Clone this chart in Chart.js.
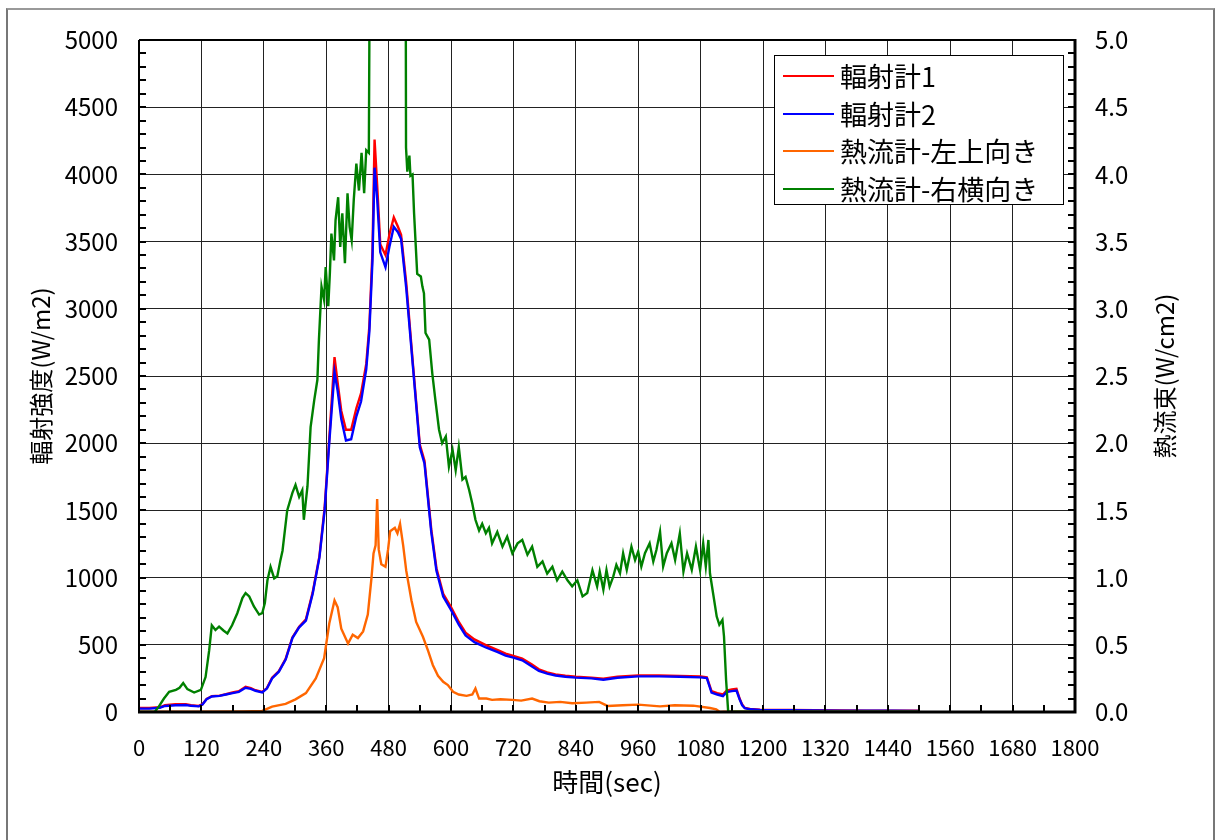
<!DOCTYPE html>
<html lang="ja">
<head>
<meta charset="utf-8">
<title>輻射強度と熱流束</title>
<script src="https://cdn.jsdelivr.net/npm/chart.js@4.4.1/dist/chart.umd.min.js"></script>
<style>
  body { margin: 0; background: #fff; }
  #wrap { position: relative; width: 1215px; height: 840px; overflow: hidden; }
  #frame { position: absolute; left: 6px; top: 8px; width: 1205px; height: 840px;
           border-left: 2px solid #777; border-top: 2px solid #999; border-right: 2px solid #777; }
  #legend { position: absolute; left: 774px; top: 55px; width: 290px; height: 150px;
            box-sizing: border-box; border: 1px solid #000; background: #fff;
            font-family: 'Noto Sans CJK JP', sans-serif; font-size: 27px; color: #000; }
  #legend .row { position: absolute; left: 0; height: 36px; line-height: 36px; white-space: nowrap; }
  #legend .swatch { position: absolute; left: 8px; top: 17px; width: 51px; height: 2px; }
  #legend .label { position: absolute; left: 65px; top: 0; }
</style>
</head>
<body>
<div id="wrap">
  <canvas id="chart" width="1215" height="840"></canvas>
  <div id="frame"></div>
  <div id="legend"></div>
</div>
<script>
// time axis (sec) shared by the two radiometers
const radT = [0, 20, 40, 50, 70, 90, 100, 115, 122, 130,
  140, 155, 167, 180, 192, 205, 215, 224, 237, 246,
  256, 269, 282, 295, 308, 321, 334, 347, 357, 366,
  376, 382, 389, 398, 408, 418, 427, 437, 443, 449,
  453, 458, 464, 474, 482, 490, 498, 504, 514, 527,
  540, 549, 562, 572, 585, 600, 615, 628, 645, 667,
  690, 705, 720, 737, 755, 769, 785, 801, 820, 840,
  870, 893, 920, 960, 1000, 1040, 1080, 1092, 1101, 1112,
  1123, 1130, 1140, 1149, 1155, 1160, 1165, 1175, 1194, 1250,
  1300, 1350, 1400, 1450, 1500];

// 輻射計1 (W/m2)
const rad1 = [30, 30, 35, 50, 58, 58, 50, 45, 58, 98,
  118, 122, 132, 145, 155, 188, 178, 162, 150, 178,
  255, 305, 395, 555, 635, 690, 890, 1160, 1520, 2040,
  2640, 2450, 2240, 2100, 2100, 2260, 2370, 2590, 2870, 3430,
  4260, 3920, 3480, 3400, 3560, 3680, 3610, 3550, 3190, 2580,
  1990, 1870, 1360, 1070, 880, 780, 670, 590, 540, 498,
  460, 435, 418, 398, 355, 318, 295, 280, 270, 262,
  256, 248, 262, 272, 272, 268, 264, 258, 155, 140,
  130, 160, 168, 172, 100, 55, 30, 22, 17, 15,
  13, 11, 10, 9, 9];

// 輻射計2 (W/m2)
const rad2 = [25, 25, 32, 45, 50, 52, 46, 42, 55, 95,
  115, 120, 130, 140, 150, 180, 172, 158, 146, 175,
  250, 300, 390, 550, 630, 680, 880, 1150, 1500, 2010,
  2530, 2390, 2180, 2020, 2030, 2200, 2310, 2550, 2830, 3360,
  4050, 3820, 3420, 3310, 3470, 3610, 3570, 3520, 3150, 2560,
  1970, 1850, 1340, 1050, 860, 760, 650, 570, 520, 480,
  445, 420, 405, 385, 340, 305, 285, 272, 262, 256,
  250, 240, 255, 265, 265, 262, 258, 252, 145, 130,
  118, 148, 155, 160, 95, 50, 28, 20, 16, 14,
  12, 10, 10, 9, 8];

// 熱流計-左上向き (W/cm2)
const upLeftT = [0, 100, 200, 237, 256, 282, 301, 321, 340, 356,
  366, 376, 382, 389, 402, 411, 421, 431, 440, 447,
  451, 455, 458, 461, 466, 474, 479, 483, 492, 497,
  502, 508, 514, 524, 533, 546, 556, 565, 575, 585,
  594, 604, 615, 630, 641, 647, 654, 668, 679, 695,
  718, 735, 756, 770, 788, 810, 833, 860, 885, 901,
  930, 960, 1002, 1030, 1066, 1098, 1110, 1117, 1125, 1200,
  1300, 1400, 1500];
const upLeft = [0.002, 0.003, 0.005, 0.008, 0.04, 0.06, 0.094, 0.141, 0.25, 0.40,
  0.66, 0.83, 0.78, 0.62, 0.51, 0.575, 0.55, 0.60, 0.725, 0.995,
  1.18, 1.24, 1.585, 1.21, 1.10, 1.08, 1.21, 1.345, 1.37, 1.33,
  1.40, 1.24, 1.05, 0.83, 0.67, 0.56, 0.455, 0.35, 0.27, 0.225,
  0.20, 0.15, 0.13, 0.12, 0.13, 0.175, 0.10, 0.10, 0.09, 0.095,
  0.09, 0.085, 0.10, 0.08, 0.07, 0.075, 0.065, 0.07, 0.075, 0.045,
  0.05, 0.055, 0.042, 0.05, 0.047, 0.03, 0.02, 0.0, 0.002, 0.003,
  0.002, 0.003, 0.002];

// 熱流計-右横向き (W/cm2) - goes off scale around 450-510 sec
const sideRightT = [0, 30, 38, 48, 58, 71, 78, 85, 93, 106,
  119, 128, 135, 140, 147, 154, 163, 170, 179, 189,
  199, 205, 212, 221, 231, 237, 242, 247, 253, 260,
  266, 272, 276, 285, 295, 301, 308, 314, 317, 324,
  330, 337, 343, 346, 351, 356, 359, 364, 367, 370,
  375, 378, 383, 387, 391, 396, 401, 405, 409, 413,
  418, 423, 428, 433, 437, 442, 446, 512, 513.5, 516,
  520, 522, 526, 529, 535, 542, 545, 548, 551, 558,
  564, 570, 577, 583, 590, 596, 603, 609, 615, 622,
  628, 635, 641, 647, 654, 660, 667, 673, 679, 689,
  699, 708, 718, 728, 737, 747, 756, 766, 776, 785,
  795, 804, 814, 824, 833, 843, 853, 862, 872, 881,
  886, 893, 899, 905, 912, 918, 925, 931, 938, 947,
  954, 960, 966, 973, 982, 989, 995, 1002, 1008, 1015,
  1024, 1031, 1040, 1047, 1054, 1063, 1071, 1079, 1085, 1090,
  1095, 1098, 1104, 1111, 1116, 1122, 1125, 1129, 1133, 1200,
  1300, 1400, 1500];
const sideRight = [0, 0, 0.04, 0.10, 0.15, 0.165, 0.18, 0.215, 0.17, 0.145,
  0.165, 0.26, 0.46, 0.645, 0.61, 0.635, 0.605, 0.585, 0.645, 0.735,
  0.85, 0.885, 0.86, 0.785, 0.725, 0.735, 0.81, 0.98, 1.08, 0.995,
  1.01, 1.13, 1.20, 1.50, 1.63, 1.69, 1.60, 1.65, 1.43, 1.68,
  2.12, 2.32, 2.47, 2.77, 3.165, 3.065, 3.31, 3.02, 3.26, 3.56,
  3.36, 3.66, 3.83, 3.46, 3.71, 3.34, 3.86, 3.61, 3.51, 3.81,
  4.08, 3.88, 4.16, 3.86, 4.18, 4.16, 7.5, 7.5, 4.2, 4.02,
  4.14, 3.99, 4.0, 3.71, 3.26, 3.24, 3.165, 3.115, 2.82, 2.77,
  2.52, 2.32, 2.10, 2.00, 2.05, 1.825, 1.95, 1.80, 1.97, 1.73,
  1.75, 1.65, 1.55, 1.43, 1.35, 1.40, 1.33, 1.37, 1.255, 1.34,
  1.23, 1.305, 1.18, 1.255, 1.28, 1.17, 1.23, 1.08, 1.12, 1.03,
  1.08, 0.98, 1.045, 0.98, 0.935, 0.98, 0.86, 0.885, 1.055, 0.935,
  1.045, 0.91, 1.057, 0.933, 1.007, 1.094, 1.032, 1.181, 1.057, 1.23,
  1.131, 1.193, 1.082, 1.181, 1.255, 1.119, 1.205, 1.342, 1.082, 1.181,
  1.255, 1.131, 1.329, 1.045, 1.181, 1.057, 1.23, 1.057, 1.255, 1.082,
  1.28, 1.032, 0.884, 0.71, 0.649, 0.686, 0.562, 0.24, 0.005, 0.003,
  0.002, 0.002, 0.002];

const seriesNames = ['輻射計1', '輻射計2', '熱流計-左上向き', '熱流計-右横向き'];
const seriesColors = ['#ff0000', '#0000ff', '#ff6600', '#008000'];

const FONT = "'Noto Sans CJK JP', 'Noto Sans', sans-serif";

const toPoints = (xs, ys) => xs.map((x, i) => ({ x: x, y: ys[i] }));

// minor ticks, plot frame and right-hand axis title
const frameTicks = {
    id: 'frameTicks',
    afterDraw(chart) {
        const { ctx, chartArea: a, scales } = chart;
        ctx.save();
        ctx.strokeStyle = '#000';
        ctx.lineWidth = 2;
        ctx.beginPath();
        for (let v = 0; v <= 5000; v += 100) {
            const y = Math.round(scales.y.getPixelForValue(v));
            ctx.moveTo(a.left, y); ctx.lineTo(a.left + 7, y);
            ctx.moveTo(a.right, y); ctx.lineTo(a.right - 7, y);
        }
        for (let t = 0; t <= 1800; t += 60) {
            const x = Math.round(scales.x.getPixelForValue(t));
            ctx.moveTo(x, a.bottom); ctx.lineTo(x, a.bottom - 7);
        }
        ctx.stroke();
        ctx.lineWidth = 2;
        ctx.beginPath();
        ctx.moveTo(a.left, a.top); ctx.lineTo(a.right, a.top);
        ctx.moveTo(a.left, a.top); ctx.lineTo(a.left, a.bottom);
        ctx.stroke();
        ctx.lineWidth = 3;
        ctx.beginPath();
        ctx.moveTo(a.left - 1, a.bottom); ctx.lineTo(a.right + 1.5, a.bottom);
        ctx.moveTo(a.right, a.top - 1); ctx.lineTo(a.right, a.bottom);
        ctx.stroke();

        ctx.fillStyle = '#000';
        ctx.font = '24px ' + FONT;
        ctx.textAlign = 'center';
        ctx.textBaseline = 'middle';
        ctx.translate(1165, (a.top + a.bottom) / 2);
        ctx.rotate(-Math.PI / 2);
        ctx.fillText('熱流束(W/cm2)', 0, 0);
        ctx.restore();
    }
};

const gridStyle = { color: '#222', lineWidth: 1, drawTicks: false };

const chart = new Chart(document.getElementById('chart'), {
    type: 'line',
    data: {
        datasets: [
            { label: seriesNames[0], data: toPoints(radT, rad1), yAxisID: 'y', order: 3 },
            { label: seriesNames[1], data: toPoints(radT, rad2), yAxisID: 'y', order: 2 },
            { label: seriesNames[2], data: toPoints(upLeftT, upLeft), yAxisID: 'y2', order: 1 },
            { label: seriesNames[3], data: toPoints(sideRightT, sideRight), yAxisID: 'y2', order: 0 }
        ].map((d, i) => Object.assign(d, {
            borderColor: seriesColors[i],
            backgroundColor: seriesColors[i],
            borderWidth: 2.4,
            pointRadius: 0,
            tension: 0,
            fill: false
        }))
    },
    options: {
        responsive: false,
        animation: false,
        layout: { padding: { top: 40, left: 0, right: 0, bottom: 0 } },
        plugins: {
            legend: { display: false },
            tooltip: { enabled: false }
        },
        scales: {
            x: {
                type: 'linear',
                position: 'bottom',
                min: 0,
                max: 1800,
                ticks: { stepSize: 120, autoSkip: false, maxRotation: 0, padding: 22,
                         color: '#000', font: { family: FONT, size: 22 },
                         callback: (v) => String(v) },
                grid: gridStyle,
                border: { display: false },
                title: { display: true, text: '時間(sec)', color: '#000',
                         font: { family: FONT, size: 26 }, padding: { top: 0, bottom: 42 } },
                afterFit: (s) => { s.height = 128; }
            },
            y: {
                type: 'linear',
                position: 'left',
                min: 0,
                max: 5000,
                ticks: { stepSize: 500, autoSkip: false, padding: 21,
                         color: '#000', font: { family: FONT, size: 24 },
                         callback: (v) => String(v) },
                grid: gridStyle,
                border: { display: false },
                title: { display: true, text: '輻射強度(W/m2)', color: '#000',
                         font: { family: FONT, size: 24 }, padding: { top: 26, bottom: 0 } },
                afterFit: (s) => { s.width = 139; }
            },
            y2: {
                type: 'linear',
                position: 'right',
                min: 0,
                max: 5,
                ticks: { stepSize: 0.5, autoSkip: false, padding: 20,
                         color: '#000', font: { family: FONT, size: 24 },
                         callback: (v) => Number(v).toFixed(1) },
                grid: { drawOnChartArea: false, drawTicks: false },
                border: { display: false },
                afterFit: (s) => { s.width = 140; }
            }
        }
    },
    plugins: [frameTicks]
});

// legend box built from the chart's own datasets
const legend = document.getElementById('legend');
chart.data.datasets.forEach((ds, i) => {
    const row = document.createElement('div');
    row.className = 'row';
    row.style.top = (2 + i * 37.5) + 'px';
    row.innerHTML = '<span class="swatch" style="background:' + ds.borderColor + '"></span>' +
        '<span class="label">' + ds.label + '</span>';
    legend.appendChild(row);
});
</script>
</body>
</html>
